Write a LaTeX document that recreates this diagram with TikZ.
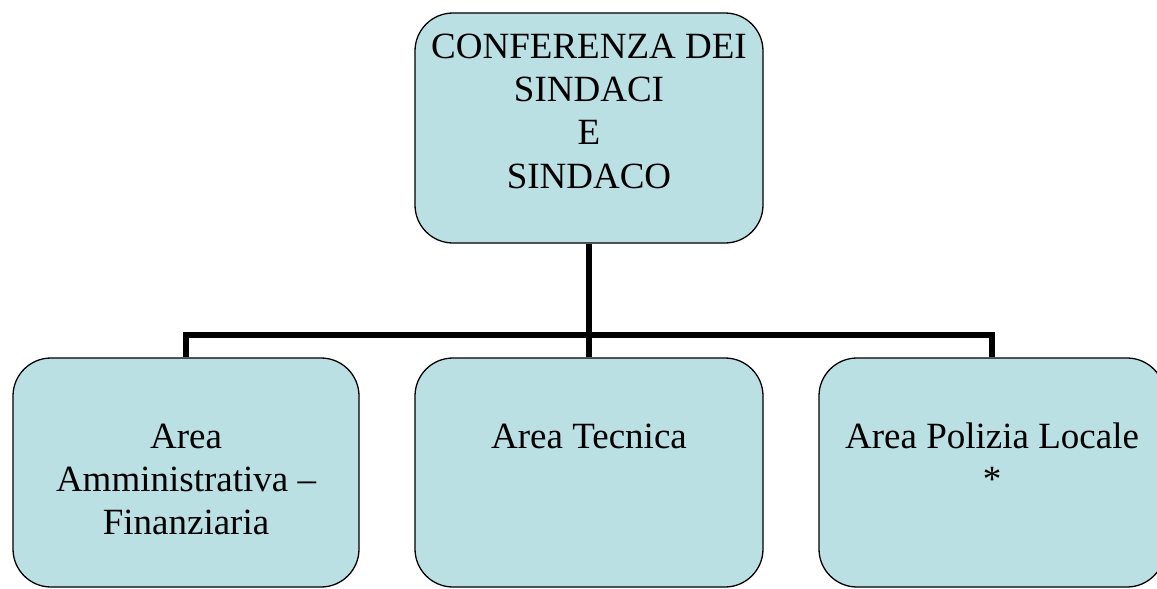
\documentclass[tikz,border=0pt]{standalone}
\usepackage{fontspec}
\setmainfont{Liberation Serif}
\usetikzlibrary{backgrounds}
\definecolor{boxfill}{HTML}{BBE0E3}
\tikzset{
  orgbox/.style={draw=black, line width=1.3pt, fill=boxfill, rounded corners=38pt, inner sep=0pt},
  orgtext/.style={align=center, inner sep=0pt, anchor=base, font=\fontsize{37pt}{43.3pt}\selectfont},
  conn/.style={draw=black, line width=6.5pt, line join=miter}
}
\begin{document}
\begin{tikzpicture}[x=1pt,y=-1pt]
\useasboundingbox (0,0) rectangle (1157,589);
\clip (0,0) rectangle (1157,589);
% boxes
\node[orgbox, minimum width=348pt, minimum height=230pt] (top) at (589,128) {};
\node[orgbox, minimum width=346pt, minimum height=229pt] (left) at (186,472.5) {};
\node[orgbox, minimum width=348pt, minimum height=229pt] (mid) at (589,472.5) {};
\node[orgbox, minimum width=346pt, minimum height=229pt] (right) at (992,472.5) {};
% texts (base anchor = baseline of last line)
\node[orgtext] (ttop) at (589,188) {CONFERENZA DEI\\SINDACI\\E\\SINDACO};
\node[orgtext] (tleft) at (186,534.6) {Area\\Amministrativa –\\Finanziaria};
\node[orgtext] (tmid) at (589,448) {Area Tecnica};
\node[orgtext] (tright) at (992,491.3) {Area Polizia Locale\\*};
% connectors, behind the boxes
\coordinate (bus) at (589,335);
\begin{pgfonlayer}{background}
\fill[white] (0,0) rectangle (1157,589);
\draw[conn] (top.south) -- (bus);
\draw[conn] (left.north) |- (bus) -| (right.north);
\draw[conn] (mid.north) -- (bus);
\end{pgfonlayer}
\end{tikzpicture}
\end{document}
